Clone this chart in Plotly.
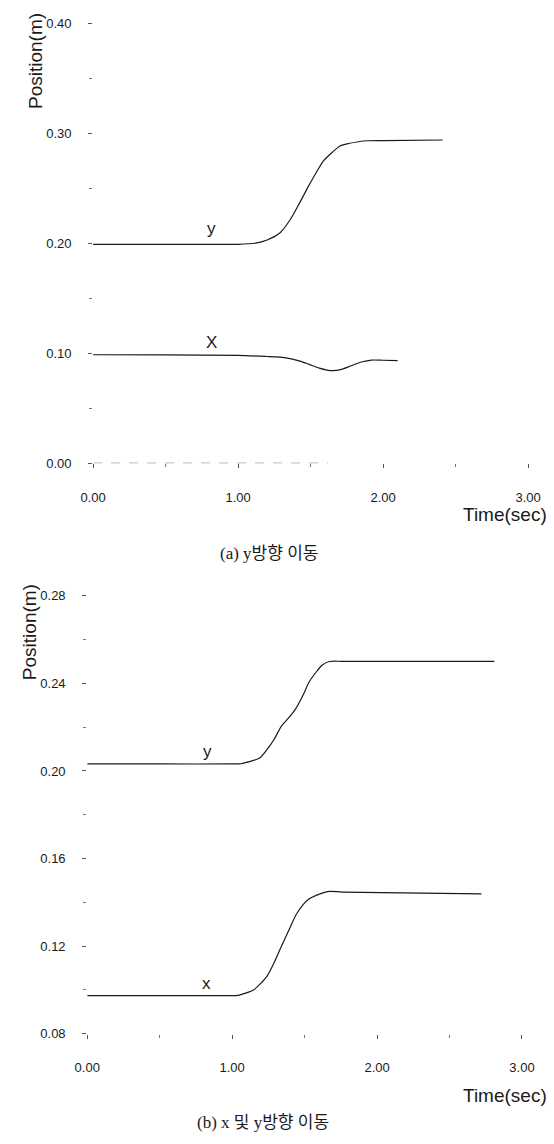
import plotly.graph_objects as go

# ---------------- data ----------------
# (a) y-direction move
t_a_y = [0.0, 0.5, 1.0, 1.13, 1.20, 1.29, 1.36, 1.42, 1.48, 1.54, 1.59, 1.65, 1.70, 1.75, 1.83, 1.89, 2.0, 2.41]
v_a_y = [0.199, 0.199, 0.199, 0.2003, 0.2029, 0.2095, 0.2215, 0.2355, 0.2505, 0.2645, 0.2750, 0.2827, 0.2881, 0.2902, 0.2922, 0.2931, 0.2933, 0.2938]
t_a_x = [0.0, 0.5, 1.0, 1.2, 1.27, 1.33, 1.42, 1.49, 1.56, 1.65, 1.72, 1.78, 1.85, 1.92, 2.0, 2.1]
v_a_x = [0.0986, 0.0985, 0.0980, 0.0970, 0.0966, 0.0958, 0.0931, 0.0899, 0.0865, 0.0841, 0.0856, 0.0886, 0.0920, 0.0938, 0.0936, 0.0933]

# (b) x and y-direction move
t_b_y = [0.0, 0.5, 1.0, 1.06, 1.19, 1.24, 1.29, 1.34, 1.40, 1.44, 1.49, 1.53, 1.58, 1.62, 1.67, 1.76, 2.81]
v_b_y = [0.2032, 0.2032, 0.2032, 0.2033, 0.2059, 0.2097, 0.2145, 0.2205, 0.2250, 0.2286, 0.2347, 0.2405, 0.2452, 0.2483, 0.2500, 0.2501, 0.2501]
t_b_x = [0.0, 0.5, 1.0, 1.04, 1.15, 1.24, 1.29, 1.33, 1.40, 1.44, 1.49, 1.53, 1.58, 1.67, 1.76, 2.72]
v_b_x = [0.0974, 0.0974, 0.0974, 0.0975, 0.1001, 0.1062, 0.1125, 0.1185, 0.1285, 0.1342, 0.1390, 0.1415, 0.1432, 0.1450, 0.1447, 0.1439]

# curve labels (time, value, text)
labels_a = [(0.82, 0.2134, "y"), (0.815, 0.1097, "X")]
labels_b = [(0.83, 0.2089, "y"), (0.82, 0.1031, "x")]

x_ticks = [0.0, 1.0, 2.0, 3.0]
y_ticks_a = [0.0, 0.1, 0.2, 0.3, 0.4]
y_ticks_b = [0.08, 0.12, 0.16, 0.20, 0.24, 0.28]

caption_a = "(a) y방향 이동"
caption_b = "(b) x 및 y방향 이동"
x_title = "Time(sec)"
y_title = "Position(m)"

# ---------------- layout helpers ----------------
W, H = 554, 1144


def fx(p):
    return p / W


def fy(p):
    return 1 - p / H


LINE = dict(color="#1a1a1a", width=1.2)
TICKFONT = dict(family="Liberation Sans, Arial, sans-serif", size=13, color="#1a1a1a")
LABELFONT = dict(family="Liberation Sans, Arial, sans-serif", size=17, color="#1a1a1a")
TITLEFONT = dict(family="Liberation Sans, Arial, sans-serif", size=19, color="#1a1a1a")
CAPFONT = dict(family="Liberation Serif, Noto Sans CJK KR, serif", size=17, color="#1a1a1a")

fig = go.Figure()

for t, v in [(t_a_y, v_a_y), (t_a_x, v_a_x)]:
    fig.add_trace(go.Scatter(x=t, y=v, mode="lines", line=dict(**LINE, shape="spline", smoothing=0.6),
                             xaxis="x", yaxis="y", showlegend=False, hoverinfo="skip"))
for t, v in [(t_b_y, v_b_y), (t_b_x, v_b_x)]:
    fig.add_trace(go.Scatter(x=t, y=v, mode="lines", line=dict(**LINE, shape="spline", smoothing=0.6),
                             xaxis="x2", yaxis="y2", showlegend=False, hoverinfo="skip"))

xr = [0, 3.12]
common_x = dict(range=xr, showgrid=False, zeroline=False, showline=False,
                tickvals=x_ticks, tickformat=".2f", ticks="outside", ticklen=4,
                tickcolor="#555", tickwidth=1, tickfont=TICKFONT, ticklabelstandoff=18,
                minor=dict(dtick=0.5, tick0=0, ticks="outside", ticklen=3, tickcolor="#777"))
common_y = dict(showgrid=False, zeroline=False, showline=False, tickformat=".2f",
                ticks="outside", ticklen=4, tickcolor="#555", tickwidth=1,
                tickfont=TICKFONT, ticklabelstandoff=14)

fig.update_layout(
    width=W, height=H, margin=dict(l=0, r=0, t=0, b=0),
    paper_bgcolor="white", plot_bgcolor="white",
    xaxis=dict(**common_x, domain=[fx(82), fx(82 + 3.12 * 148.5)], anchor="y"),
    yaxis=dict(**common_y, range=[0, 0.41], tickvals=y_ticks_a,
               minor=dict(dtick=0.05, tick0=0, ticks="outside", ticklen=3, tickcolor="#777"),
               domain=[fy(466.5), fy(466.5 - 0.41 * 1108)], anchor="x"),
    xaxis2=dict(**common_x, domain=[fx(76), fx(76 + 3.12 * 148.4)], anchor="y2"),
    yaxis2=dict(**common_y, range=[0.08, 0.285], tickvals=y_ticks_b,
                minor=dict(dtick=0.02, tick0=0.08, ticks="outside", ticklen=3, tickcolor="#777"),
                domain=[fy(1041), fy(1041 - 0.205 * 2205)], anchor="x2"),
)

# faint dashed baseline at 0 in plot (a)
fig.add_shape(type="line", xref="x", yref="y", x0=0, x1=1.62, y0=0, y1=0,
              line=dict(color="#666", width=1, dash="dash"))

ann = []
for t, v, s in labels_a:
    ann.append(dict(x=t, y=v, xref="x", yref="y", text=s, showarrow=False, font=LABELFONT))
for t, v, s in labels_b:
    ann.append(dict(x=t, y=v, xref="x2", yref="y2", text=s, showarrow=False, font=LABELFONT))

# axis titles & captions
ann += [
    dict(x=fx(23), y=fy(61), xref="paper", yref="paper", text=y_title, textangle=-90,
         showarrow=False, font=TITLEFONT, xanchor="center", yanchor="middle"),
    dict(x=fx(17), y=fy(637), xref="paper", yref="paper", text=y_title, textangle=-90,
         showarrow=False, font=TITLEFONT, xanchor="center", yanchor="middle"),
    dict(x=fx(549), y=fy(518), xref="paper", yref="paper", text=x_title,
         showarrow=False, font=TITLEFONT, xanchor="right", yanchor="middle"),
    dict(x=fx(549), y=fy(1103), xref="paper", yref="paper", text=x_title,
         showarrow=False, font=TITLEFONT, xanchor="right", yanchor="middle"),
    dict(x=fx(262), y=fy(557), xref="paper", yref="paper", text=caption_a,
         showarrow=False, font=CAPFONT, xanchor="center", yanchor="middle"),
    dict(x=fx(256), y=fy(1130), xref="paper", yref="paper", text=caption_b,
         showarrow=False, font=CAPFONT, xanchor="center", yanchor="middle"),
]
fig.update_layout(annotations=ann)

fig.write_html(
    "out.html",
    config={"displayModeBar": False},
    post_script="document.body.style.margin='0';document.body.style.overflow='hidden';",
)
